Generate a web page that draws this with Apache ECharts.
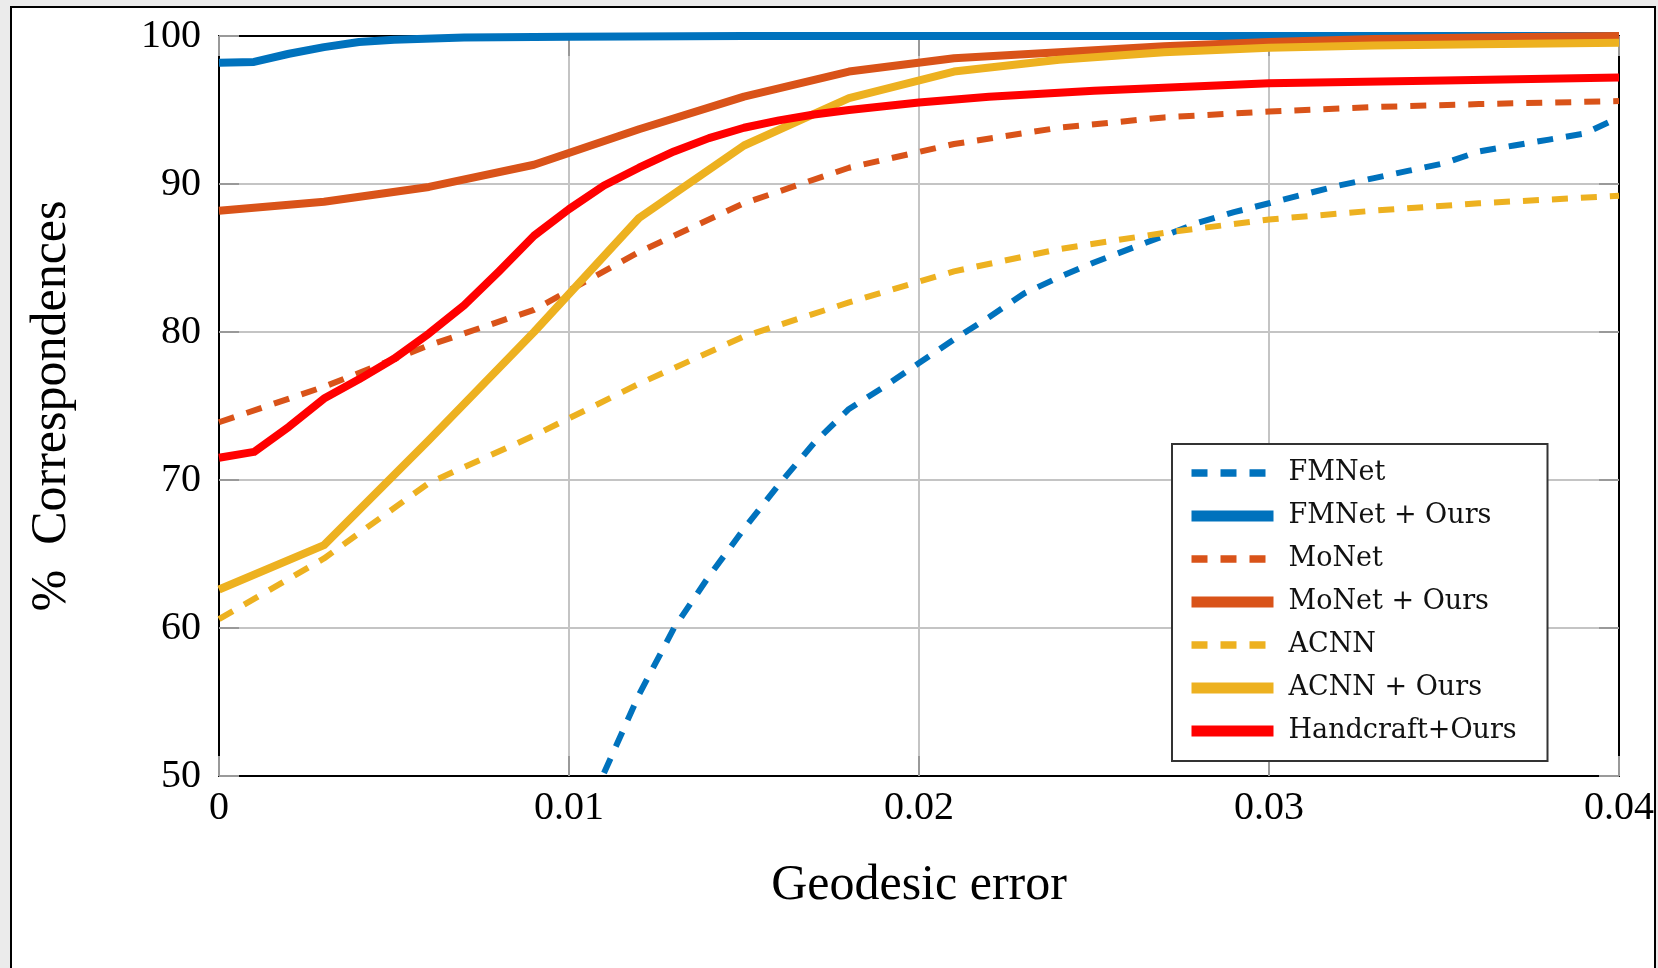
<!DOCTYPE html>
<html>
<head>
<meta charset="utf-8">
<script src="https://cdn.jsdelivr.net/npm/echarts@6/dist/echarts.min.js"></script>
<style>
	html, body { margin: 0; padding: 0; background: #ebebeb; }
	#bigCharts { width: 1658px; height: 968px; }
</style>
</head>
<body>
<div id="bigCharts"></div>
<script>
// 图例名称
var names = ['FMNet', 'FMNet + Ours', 'MoNet', 'MoNet + Ours', 'ACNN', 'ACNN + Ours', 'Handcraft+Ours'];
var colors = ['#0072BD', '#0072BD', '#D95319', '#D95319', '#EDB120', '#EDB120', '#FF0000'];

// x 刻度
var xTicks = [0, 0.01, 0.02, 0.03, 0.04];
var yTicks = [50, 60, 70, 80, 90, 100];

// 各曲线的采样点
var xCoarse = [0, 0.003, 0.006, 0.009, 0.012, 0.015, 0.018, 0.021, 0.024, 0.027, 0.03, 0.033, 0.036, 0.04];

var fmnetX = [0.011, 0.012, 0.013, 0.014, 0.015, 0.016, 0.017, 0.018, 0.019, 0.02, 0.021, 0.022, 0.023, 0.024, 0.025,
	0.026, 0.027, 0.028, 0.029, 0.03, 0.031, 0.032, 0.033, 0.034, 0.035, 0.036, 0.037, 0.038, 0.039, 0.04];
var fmnet = [50.2, 55.5, 60.0, 63.5, 66.7, 69.7, 72.5, 74.8, 76.3, 77.9, 79.5, 81.0, 82.6, 83.7, 84.7,
	85.6, 86.5, 87.4, 88.1, 88.7, 89.3, 89.9, 90.4, 90.9, 91.4, 92.2, 92.6, 93.0, 93.4, 94.5];

var fmnetOursX = [0, 0.001, 0.002, 0.003, 0.004, 0.005, 0.007, 0.01, 0.015, 0.04];
var fmnetOurs = [98.2, 98.25, 98.8, 99.25, 99.6, 99.75, 99.9, 99.95, 100, 100];

var monet = [73.9, 76.3, 79.1, 81.5, 85.4, 88.7, 91.1, 92.7, 93.8, 94.5, 94.9, 95.2, 95.4, 95.6];
var monetOurs = [88.2, 88.8, 89.8, 91.3, 93.7, 95.9, 97.6, 98.5, 98.9, 99.3, 99.6, 99.8, 99.9, 100];
var acnn = [60.6, 64.7, 69.8, 73.0, 76.5, 79.7, 82.0, 84.1, 85.6, 86.7, 87.6, 88.2, 88.7, 89.2];
var acnnOurs = [62.6, 65.6, 72.7, 80.0, 87.7, 92.6, 95.8, 97.6, 98.4, 98.9, 99.2, 99.35, 99.45, 99.55];

var handX = [0, 0.001, 0.002, 0.003, 0.004, 0.005, 0.006, 0.007, 0.008, 0.009, 0.01, 0.011, 0.012, 0.013, 0.014,
	0.015, 0.016, 0.017, 0.018, 0.02, 0.022, 0.025, 0.03, 0.035, 0.04];
var hand = [71.5, 71.9, 73.6, 75.5, 76.8, 78.2, 79.9, 81.8, 84.1, 86.5, 88.3, 89.9, 91.1, 92.2, 93.1,
	93.8, 94.3, 94.7, 95.0, 95.5, 95.9, 96.3, 96.8, 97.0, 97.2];

function pairs(xs, ys) {
	return xs.map(function(x, i) {
		return [x, ys[i]];
	});
}

var seriesData = [
	pairs(fmnetX, fmnet),
	pairs(fmnetOursX, fmnetOurs),
	pairs(xCoarse, monet),
	pairs(xCoarse, monetOurs),
	pairs(xCoarse, acnn),
	pairs(xCoarse, acnnOurs),
	pairs(handX, hand)
];

function isDashed(i) {
	return i % 2 === 0 && i < 6;
}

function inintialEcharts() {
	var myChart = echarts.init(document.getElementById('bigCharts'));
	var serif = 'Liberation Serif';
	var tickStyle = { show: true, inside: true, length: 20, lineStyle: { color: '#999', width: 2 } };

	var series = names.map(function(name, i) {
		var dashed = isDashed(i);
		return {
			name: name,
			type: 'line',
			data: seriesData[i],
			symbol: 'none',
			clip: true,
			color: colors[i],
			lineStyle: {
				color: colors[i],
				width: dashed ? 6 : 8,
				type: dashed ? [16, 13] : 'solid',
				cap: 'butt',
				join: 'round'
			}
		};
	});

	// 图例：线段更粗，不画圆点
	var legendData = names.map(function(name, i) {
		var dashed = isDashed(i);
		return {
			name: name,
			itemStyle: { opacity: 0 },
			lineStyle: {
				width: dashed ? 7.5 : 11,
				type: dashed ? [16, 13] : 'solid',
				cap: 'butt'
			}
		};
	});

	//表格配置项
	var option = {
		backgroundColor: '#ebebeb',
		animation: false,
		graphic: {
			elements: [{
				type: 'rect',
				z: -10,
				shape: { x: 11, y: 7, width: 1644, height: 1000 },
				style: { fill: '#fff', stroke: '#000', lineWidth: 2 }
			}]
		},
		grid: {
			left: 219,
			top: 36,
			right: 39,
			bottom: 192
		},
		legend: {
			orient: 'vertical',
			left: 1172,
			top: 444,
			padding: [14, 19, 15, 14],
			itemWidth: 82,
			itemHeight: 14,
			itemGap: 13,
			backgroundColor: '#fff',
			borderColor: '#333',
			borderWidth: 2,
			borderRadius: 0,
			z: 10,
			itemStyle: { opacity: 0 },
			data: legendData,
			textStyle: {
				fontFamily: 'DejaVu Serif',
				fontSize: 27,
				color: '#111',
				lineHeight: 30,
				width: 240,
				padding: [0, 0, 0, 10]
			}
		},
		xAxis: [{
			type: 'value',
			min: 0,
			max: 0.04,
			interval: 0.01,
			name: 'Geodesic error',
			nameLocation: 'middle',
			nameGap: 85,
			nameTextStyle: { fontFamily: serif, fontSize: 50, color: '#000' },
			axisLine: { show: true, onZero: false, lineStyle: { color: '#000', width: 2 } },
			axisTick: tickStyle,
			axisLabel: { fontFamily: serif, fontSize: 40, color: '#000', margin: 12 },
			splitLine: { show: true, lineStyle: { color: '#c4c4c4', width: 2 } }
		}, {
			type: 'value',
			position: 'top',
			min: 0,
			max: 0.04,
			interval: 0.01,
			axisLine: { show: true, onZero: false, lineStyle: { color: '#000', width: 2 } },
			axisTick: tickStyle,
			axisLabel: { show: false },
			splitLine: { show: false }
		}],
		yAxis: [{
			type: 'value',
			min: 50,
			max: 100,
			interval: 10,
			name: '%  Correspondences',
			nameLocation: 'middle',
			nameGap: 142,
			nameTextStyle: { fontFamily: serif, fontSize: 50, color: '#000' },
			axisLine: { show: true, onZero: false, lineStyle: { color: '#000', width: 2 } },
			axisTick: tickStyle,
			axisLabel: { fontFamily: serif, fontSize: 40, color: '#000', margin: 18 },
			splitLine: { show: true, lineStyle: { color: '#c4c4c4', width: 2 } }
		}, {
			type: 'value',
			position: 'right',
			min: 50,
			max: 100,
			interval: 10,
			axisLine: { show: true, onZero: false, lineStyle: { color: '#000', width: 2 } },
			axisTick: tickStyle,
			axisLabel: { show: false },
			splitLine: { show: false }
		}],
		series: series
	};
	myChart.setOption(option);
}

inintialEcharts();
</script>
</body>
</html>
